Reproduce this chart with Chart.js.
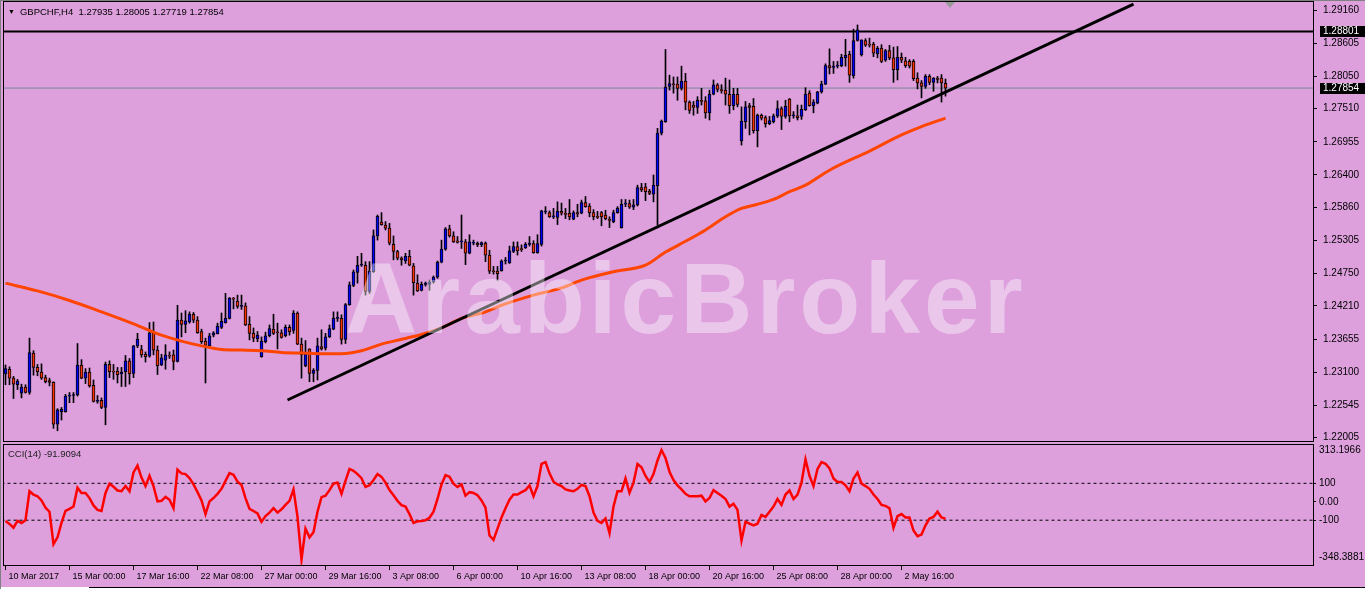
<!DOCTYPE html>
<html>
<head>
<meta charset="utf-8">
<title>GBPCHF H4</title>
<script src="https://cdn.jsdelivr.net/npm/chart.js@4.4.1/dist/chart.umd.min.js"></script>
<style>
  html, body { margin: 0; padding: 0; }
  body { width: 1365px; height: 589px; background: #dda0dd; position: relative; overflow: hidden; font-family: "Liberation Sans", Arial, sans-serif; }
  canvas { position: absolute; left: 0; }
  #mainChart { top: 0; }
  #cciChart { top: 443px; }
  .txt { position: absolute; color: #000; font-size: 9.5px; line-height: 11px; white-space: nowrap; z-index: 2; }
  #header { left: 8px; top: 6px; }
  #header span { font-size: 7px; margin-right: 5px; vertical-align: 1px; }
  #cciLabel { left: 8px; top: 448px; color: #222; }
  #watermark { position: absolute; left: 345px; top: 248px; font-size: 100px; line-height: 100px; font-weight: bold; letter-spacing: 4px; color: rgba(255,255,255,0.4); z-index: 3; white-space: nowrap; }
  #shift { position: absolute; left: 945px; top: 2px; width: 0; height: 0; border-left: 5px solid transparent; border-right: 5px solid transparent; border-top: 6px solid #9a9a9a; z-index: 2; }
  #edgeTop { position: absolute; left: 0; top: 0; width: 1365px; height: 1px; background: #808080; z-index: 2; }
  #edgeLeft { position: absolute; left: 0; top: 0; width: 1px; height: 589px; background: #808080; z-index: 2; }
  #tabs { position: absolute; left: 0; top: 587px; width: 1365px; height: 2px; background: #fff; }
  #tabLine { position: absolute; left: 89px; top: 587px; width: 1276px; height: 1px; background: #000; }
</style>
</head>
<body>
<canvas id="mainChart" width="1365" height="444"></canvas>
<canvas id="cciChart" width="1365" height="146"></canvas>
<div id="edgeTop"></div>
<div id="edgeLeft"></div>
<div id="shift"></div>
<div id="header" class="txt"><span>&#9660;</span>GBPCHF,H4&nbsp; 1.27935 1.28005 1.27719 1.27854</div>
<div id="cciLabel" class="txt">CCI(14) -91.9094</div>
<div id="watermark">ArabicBroker</div>
<div id="tabs"></div>
<div id="tabLine"></div>
<script>
// GBPCHF H4 candles, one entry per bar (index 0 = 10 Mar 2017)
const opens = [1.2307,1.2315,1.2300,1.2289,1.2275,1.2285,1.2276,1.2342,1.2318,1.2310,1.2301,1.2296,1.2293,1.2223,1.2244,1.2244,1.2270,1.2271,1.2272,1.2322,
  1.2300,1.2310,1.2288,1.2261,1.2263,1.2251,1.2323,1.2312,1.2312,1.2307,1.2311,1.2329,1.2308,1.2354,1.2348,1.2340,1.2337,1.2376,1.2347,1.2322,
  1.2330,1.2338,1.2339,1.2328,1.2397,1.2390,1.2394,1.2407,1.2397,1.2378,1.2362,1.2354,1.2372,1.2374,1.2385,1.2393,1.2400,1.2434,1.2429,1.2420,
  1.2421,1.2390,1.2375,1.2366,1.2336,1.2361,1.2371,1.2382,1.2377,1.2376,1.2371,1.2385,1.2380,1.2409,1.2357,1.2321,1.2349,1.2308,1.2313,1.2353,
  1.2350,1.2369,1.2382,1.2400,1.2400,1.2365,1.2423,1.2455,1.2477,1.2489,1.2489,1.2445,1.2478,1.2538,1.2561,1.2556,1.2551,1.2524,1.2512,1.2501,
  1.2496,1.2504,1.2488,1.2459,1.2447,1.2457,1.2457,1.2461,1.2469,1.2494,1.2516,1.2550,1.2538,1.2530,1.2528,1.2528,1.2509,1.2526,1.2526,1.2523,
  1.2526,1.2506,1.2479,1.2479,1.2480,1.2496,1.2493,1.2512,1.2520,1.2516,1.2518,1.2524,1.2525,1.2510,1.2524,1.2578,1.2577,1.2570,1.2569,1.2579,
  1.2576,1.2576,1.2566,1.2577,1.2576,1.2594,1.2588,1.2577,1.2571,1.2577,1.2573,1.2566,1.2562,1.2577,1.2552,1.2591,1.2592,1.2586,1.2590,1.2619,
  1.2620,1.2613,1.2608,1.2622,1.2710,1.2729,1.2788,1.2792,1.2792,1.2785,1.2797,1.2762,1.2757,1.2753,1.2765,1.2764,1.2744,1.2775,1.2791,1.2783,
  1.2782,1.2775,1.2756,1.2775,1.2697,1.2729,1.2756,1.2755,1.2714,1.2740,1.2736,1.2726,1.2729,1.2739,1.2751,1.2738,1.2767,1.2739,1.2739,1.2738,
  1.2749,1.2777,1.2756,1.2760,1.2779,1.2792,1.2823,1.2820,1.2822,1.2823,1.2836,1.2842,1.2806,1.2865,1.2841,1.2865,1.2859,1.2859,1.2843,1.2852,
  1.2832,1.2848,1.2836,1.2816,1.2837,1.2831,1.2830,1.2830,1.2802,1.2794,1.2788,1.2805,1.2795,1.2802,1.2802,1.27935];
const highs = [1.2322,1.2319,1.2303,1.2298,1.2290,1.2289,1.2367,1.2346,1.2323,1.2324,1.2305,1.2300,1.2294,1.2249,1.2251,1.2273,1.2276,1.2276,1.2358,1.2331,
  1.2316,1.2317,1.2297,1.2271,1.2267,1.2327,1.2329,1.2323,1.2318,1.2318,1.2338,1.2333,1.2355,1.2375,1.2355,1.2344,1.2393,1.2394,1.2354,1.2340,
  1.2356,1.2344,1.2347,1.2422,1.2409,1.2413,1.2411,1.2410,1.2403,1.2382,1.2367,1.2375,1.2378,1.2392,1.2409,1.2442,1.2435,1.2435,1.2439,1.2439,
  1.2426,1.2403,1.2384,1.2378,1.2369,1.2377,1.2389,1.2407,1.2392,1.2381,1.2389,1.2389,1.2413,1.2411,1.2367,1.2363,1.2349,1.2316,1.2367,1.2381,
  1.2375,1.2389,1.2411,1.2411,1.2406,1.2425,1.2461,1.2481,1.2504,1.2509,1.2495,1.2495,1.2548,1.2573,1.2577,1.2562,1.2559,1.2538,1.2514,1.2503,
  1.2509,1.2514,1.2492,1.2473,1.2461,1.2461,1.2464,1.2471,1.2496,1.2531,1.2552,1.2556,1.2545,1.2537,1.2573,1.2532,1.2540,1.2531,1.2528,1.2528,
  1.2528,1.2514,1.2487,1.2487,1.2498,1.2502,1.2521,1.2528,1.2528,1.2523,1.2527,1.2537,1.2530,1.2540,1.2581,1.2587,1.2580,1.2584,1.2595,1.2593,
  1.2584,1.2599,1.2580,1.2591,1.2598,1.2604,1.2592,1.2582,1.2579,1.2579,1.2581,1.2570,1.2581,1.2587,1.2599,1.2599,1.2598,1.2599,1.2623,1.2626,
  1.2626,1.2616,1.2640,1.2718,1.2732,1.2850,1.2807,1.2804,1.2804,1.2822,1.2810,1.2764,1.2763,1.2771,1.2785,1.2771,1.2782,1.2799,1.2793,1.2791,
  1.2802,1.2799,1.2785,1.2785,1.2754,1.2763,1.2760,1.2768,1.2742,1.2742,1.2739,1.2738,1.2742,1.2764,1.2754,1.2765,1.2768,1.2746,1.2757,1.2757,
  1.2786,1.2781,1.2766,1.2780,1.2797,1.2826,1.2851,1.2830,1.2830,1.2842,1.2867,1.2847,1.2884,1.2891,1.2866,1.2868,1.2869,1.2862,1.2855,1.2858,
  1.2850,1.2857,1.2854,1.2855,1.2844,1.2837,1.2833,1.2833,1.2811,1.2798,1.2808,1.2808,1.2803,1.2805,1.2808,1.28005];
const lows = [1.2289,1.2289,1.2266,1.2281,1.2267,1.2275,1.2273,1.2305,1.2304,1.2298,1.2292,1.2287,1.2216,1.2212,1.2230,1.2243,1.2259,1.2259,1.2270,1.2299,
  1.2291,1.2285,1.2260,1.2258,1.2249,1.2222,1.2301,1.2298,1.2292,1.2286,1.2286,1.2290,1.2301,1.2351,1.2335,1.2327,1.2335,1.2339,1.2306,1.2321,
  1.2315,1.2333,1.2314,1.2327,1.2369,1.2376,1.2392,1.2393,1.2375,1.2358,1.2292,1.2353,1.2369,1.2374,1.2383,1.2392,1.2399,1.2416,1.2417,1.2415,
  1.2388,1.2364,1.2361,1.2361,1.2335,1.2359,1.2369,1.2373,1.2349,1.2367,1.2369,1.2372,1.2375,1.2356,1.2300,1.2319,1.2294,1.2294,1.2297,1.2347,
  1.2347,1.2368,1.2381,1.2395,1.2357,1.2358,1.2422,1.2453,1.2459,1.2487,1.2439,1.2442,1.2477,1.2531,1.2556,1.2548,1.2523,1.2498,1.2498,1.2489,
  1.2492,1.2488,1.2439,1.2445,1.2446,1.2454,1.2447,1.2459,1.2467,1.2493,1.2514,1.2536,1.2527,1.2526,1.2517,1.2490,1.2508,1.2523,1.2520,1.2520,
  1.2495,1.2475,1.2474,1.2464,1.2479,1.2491,1.2492,1.2510,1.2506,1.2512,1.2517,1.2521,1.2509,1.2509,1.2521,1.2575,1.2569,1.2567,1.2557,1.2573,
  1.2567,1.2565,1.2565,1.2570,1.2575,1.2586,1.2570,1.2565,1.2567,1.2555,1.2565,1.2552,1.2560,1.2576,1.2551,1.2587,1.2584,1.2582,1.2588,1.2612,
  1.2597,1.2607,1.2595,1.2556,1.2707,1.2728,1.2782,1.2777,1.2765,1.2782,1.2749,1.2743,1.2740,1.2743,1.2757,1.2735,1.2732,1.2774,1.2779,1.2777,
  1.2757,1.2743,1.2749,1.2754,1.2690,1.2718,1.2707,1.2710,1.2687,1.2732,1.2720,1.2724,1.2727,1.2736,1.2716,1.2735,1.2729,1.2735,1.2732,1.2733,
  1.2748,1.2755,1.2744,1.2759,1.2777,1.2791,1.2809,1.2810,1.2819,1.2821,1.2822,1.2795,1.2802,1.2864,1.2839,1.2855,1.2854,1.2838,1.2836,1.2828,
  1.2830,1.2833,1.2795,1.2799,1.2828,1.2820,1.2819,1.2798,1.2784,1.2769,1.2785,1.2791,1.2780,1.2794,1.2762,1.27719];
const closes = [1.2316,1.2300,1.2290,1.2295,1.2285,1.2276,1.2343,1.2318,1.2311,1.2300,1.2294,1.2293,1.2223,1.2247,1.2248,1.2270,1.2271,1.2272,1.2322,1.2300,
  1.2310,1.2287,1.2261,1.2263,1.2251,1.2323,1.2311,1.2310,1.2306,1.2310,1.2329,1.2307,1.2354,1.2365,1.2339,1.2336,1.2376,1.2347,1.2321,1.2334,
  1.2339,1.2337,1.2328,1.2397,1.2390,1.2396,1.2407,1.2397,1.2376,1.2361,1.2355,1.2371,1.2376,1.2387,1.2395,1.2400,1.2434,1.2432,1.2420,1.2421,
  1.2389,1.2375,1.2367,1.2372,1.2362,1.2371,1.2383,1.2375,1.2376,1.2368,1.2385,1.2378,1.2409,1.2357,1.2339,1.2340,1.2308,1.2313,1.2354,1.2349,
  1.2369,1.2383,1.2400,1.2401,1.2365,1.2423,1.2456,1.2478,1.2489,1.2490,1.2445,1.2479,1.2538,1.2571,1.2557,1.2551,1.2526,1.2512,1.2501,1.2498,
  1.2504,1.2489,1.2460,1.2446,1.2457,1.2457,1.2461,1.2469,1.2494,1.2516,1.2550,1.2538,1.2528,1.2527,1.2529,1.2509,1.2528,1.2527,1.2523,1.2527,
  1.2506,1.2479,1.2478,1.2475,1.2496,1.2497,1.2513,1.2520,1.2513,1.2515,1.2524,1.2525,1.2510,1.2525,1.2580,1.2579,1.2570,1.2571,1.2579,1.2576,
  1.2574,1.2570,1.2577,1.2575,1.2594,1.2587,1.2577,1.2570,1.2569,1.2570,1.2567,1.2564,1.2577,1.2584,1.2591,1.2593,1.2586,1.2590,1.2619,1.2615,
  1.2612,1.2609,1.2623,1.2710,1.2730,1.2787,1.2793,1.2791,1.2785,1.2797,1.2762,1.2748,1.2753,1.2765,1.2763,1.2744,1.2775,1.2791,1.2783,1.2781,
  1.2775,1.2756,1.2775,1.2758,1.2730,1.2754,1.2753,1.2714,1.2740,1.2735,1.2726,1.2731,1.2739,1.2751,1.2738,1.2755,1.2739,1.2740,1.2736,1.2750,
  1.2775,1.2756,1.2762,1.2779,1.2792,1.2823,1.2819,1.2822,1.2824,1.2837,1.2840,1.2807,1.2865,1.2883,1.2866,1.2857,1.2857,1.2844,1.2852,1.2830,
  1.2848,1.2836,1.2816,1.2837,1.2832,1.2823,1.2822,1.2801,1.2794,1.2788,1.2805,1.2795,1.2802,1.2800,1.2794,1.27854];

// moving average, read at these bar indexes
const maIdx = [0,8,16,24,32,39,44,49,54,59,64,69,74,79,84,89,94,99,104,109,114,120,124,132,139,144,152,160,165,170,175,180,184,188,192,196,200,206,216,224,229,235];
const maVals = [1.2459,1.2446,1.2430,1.2411,1.2391,1.2372,1.2362,1.2354,1.2348,1.2347,1.2346,1.2343,1.2342,1.2341,1.2341,1.2346,1.2357,1.2365,1.2373,1.2384,1.2400,1.2411,1.2422,1.2439,1.2451,1.2464,1.2478,1.2489,1.2511,1.2529,1.2548,1.2570,1.2584,1.2591,1.2599,1.2612,1.2623,1.2648,1.2680,1.2707,1.2721,1.2735];

// CCI(14), one value per bar
const cci = [-104,-120,-141,-104,-115,-100,57,39,30,7,-32,-54,-230,-193,-115,-50,-39,-26,76,48,
  48,20,-20,-44,-50,48,98,81,61,57,85,57,159,196,131,85,141,85,2,5,
  26,11,-35,174,154,150,128,94,52,7,-67,2,20,43,70,113,155,146,109,91,
  20,-39,-50,-63,-109,-78,-59,-35,-59,-41,-17,5,67,-82,-313,-146,-193,-165,-54,25,
  33,63,98,104,43,113,178,168,150,128,80,89,118,150,135,104,63,35,5,-18,
  -26,-67,-115,-106,-104,-100,-87,-54,15,94,144,135,98,80,94,33,52,48,35,7,
  -32,-183,-207,-146,-85,-35,11,39,39,52,63,89,30,85,205,215,154,109,94,85,
  67,61,57,70,91,85,30,-59,-104,-115,-91,-170,-26,57,57,126,48,104,205,187,
  140,107,150,224,280,237,163,118,89,67,43,30,30,30,33,2,20,63,48,33,
  15,-26,-11,-44,-211,-109,-119,-128,-119,-72,-82,-54,-26,15,-17,39,61,15,39,104,
  230,141,85,178,215,206,181,126,107,107,89,57,126,159,98,85,70,39,15,-17,
  -22,-35,-141,-78,-67,-85,-85,-156,-187,-178,-128,-91,-82,-54,-85,-91.9094];

const trendIdx = [70.5, 282];
const trendVals = [1.22635, 1.29260];
const resistance = 1.28801;
const lastPrice = 1.27854;

const priceTicks = [1.29160,1.28605,1.28050,1.27510,1.26955,1.26400,1.25860,1.25305,1.24750,1.24210,1.23655,1.23100,1.22545,1.22005];
const cciTickText = ['-348.3881','-100','0.00','100','313.1966'];
const timeLabels = ['10 Mar 2017','15 Mar 00:00','17 Mar 16:00','22 Mar 08:00','27 Mar 00:00','29 Mar 16:00','3 Apr 08:00','6 Apr 00:00',
  '10 Apr 16:00','13 Apr 08:00','18 Apr 00:00','20 Apr 16:00','25 Apr 08:00','28 Apr 00:00','2 May 16:00'];

Chart.defaults.font.family = '"Liberation Sans", Arial, sans-serif';
Chart.defaults.color = '#000';

const xMin = -0.625, xMax = 326.875;

// black frame round each panel
const framePlugin = {
  id: 'frame',
  afterDraw(c) {
    const a = c.chartArea, g = c.ctx;
    g.save();
    g.strokeStyle = '#000';
    g.lineWidth = 1;
    g.strokeRect(a.left + 0.5, a.top + 0.5, a.right - a.left, a.bottom - a.top - 1);
    g.restore();
  }
};

// black price tags on the axis
const tagPlugin = {
  id: 'tags',
  afterDraw(c) {
    const g = c.ctx, ys = c.scales.y;
    g.save();
    [resistance, lastPrice].forEach(v => {
      const py = Math.round(ys.getPixelForValue(v));
      g.fillStyle = '#000';
      g.fillRect(1320, py - 5, 45, 11);
      g.fillStyle = '#fff';
      g.font = '10px "Liberation Sans", Arial, sans-serif';
      g.textBaseline = 'middle';
      g.fillText(v.toFixed(5), 1323, py + 0.5);
    });
    g.restore();
  }
};

const flat = v => [{ x: -1, y: v }, { x: 330, y: v }];

new Chart(document.getElementById('mainChart'), {
  type: 'bar',
  data: {
    datasets: [
      { type: 'line', data: trendIdx.map((x, k) => ({ x, y: trendVals[k] })), borderColor: '#000', borderWidth: 3, pointRadius: 0, order: 0 },
      { type: 'line', data: maIdx.map((x, k) => ({ x, y: maVals[k] })), borderColor: '#ff4500', borderWidth: 3, pointRadius: 0, cubicInterpolationMode: 'monotone', order: 1 },
      { type: 'bar', data: opens.map((o, i) => ({ x: i, y: [o, closes[i]] })),
        backgroundColor: opens.map((o, i) => closes[i] >= o ? '#0000ff' : '#ff3300'),
        borderColor: '#000', borderWidth: 1, borderSkipped: false, barThickness: 3, minBarLength: 1, grouped: false, order: 2 },
      { type: 'bar', data: highs.map((h, i) => ({ x: i, y: [lows[i], h] })), backgroundColor: '#000', barThickness: 1, grouped: false, order: 3 },
      { type: 'line', data: flat(resistance), borderColor: '#000', borderWidth: 2, pointRadius: 0, order: 4 },
      { type: 'line', data: flat(lastPrice), borderColor: '#778899', borderWidth: 1, pointRadius: 0, order: 5 }
    ]
  },
  options: {
    responsive: false,
    animation: false,
    events: [],
    layout: { padding: { left: 3, top: 1, right: 0, bottom: 2 } },
    plugins: { legend: { display: false }, tooltip: { enabled: false } },
    scales: {
      x: { type: 'linear', min: xMin, max: xMax, offset: false, display: false },
      y: {
        position: 'right',
        min: 1.21932, max: 1.29311,
        afterBuildTicks(s) { s.ticks = priceTicks.map(v => ({ value: v })); },
        afterFit(s) { s.width = 52; s.paddingTop = 0; s.paddingBottom = 0; },
        ticks: { autoSkip: false, padding: 6, font: { size: 10 }, callback: v => v.toFixed(5) },
        grid: { drawOnChartArea: false, drawTicks: true, tickLength: 4, color: '#000' },
        border: { display: false }
      }
    }
  },
  plugins: [framePlugin, tagPlugin]
});

new Chart(document.getElementById('cciChart'), {
  type: 'line',
  data: {
    datasets: [
      { data: cci.map((v, i) => ({ x: i, y: v })), borderColor: '#ff0000', borderWidth: 2.5, pointRadius: 0, order: 0 },
      { data: flat(100), borderColor: '#000', borderWidth: 1, borderDash: [3, 3], pointRadius: 0, order: 1 },
      { data: flat(-100), borderColor: '#000', borderWidth: 1, borderDash: [3, 3], pointRadius: 0, order: 2 }
    ]
  },
  options: {
    responsive: false,
    animation: false,
    events: [],
    layout: { padding: { left: 3, top: 1, right: 0, bottom: 0 } },
    plugins: { legend: { display: false }, tooltip: { enabled: false } },
    scales: {
      x: {
        type: 'linear', min: xMin, max: xMax, offset: false,
        afterBuildTicks(s) { s.ticks = timeLabels.map((_, k) => ({ value: k * 16 })); },
        afterFit(s) { s.height = 23; s.paddingLeft = 0; s.paddingRight = 0; },
        ticks: { autoSkip: false, maxRotation: 0, align: 'start', labelOffset: 3, padding: 1, font: { size: 9 }, callback: (v, i) => timeLabels[i] },
        grid: { drawOnChartArea: false, drawTicks: true, tickLength: 4, color: '#000' },
        border: { display: false }
      },
      y: {
        position: 'right',
        min: -348.3881, max: 313.1966,
        afterBuildTicks(s) { s.ticks = [-299, -100, 0, 100, 280].map(v => ({ value: v })); },
        afterFit(s) { s.width = 52; s.paddingTop = 0; s.paddingBottom = 0; },
        ticks: { autoSkip: false, padding: 3, font: { size: 10 }, callback: (v, i) => cciTickText[i] },
        grid: { drawOnChartArea: false, drawTicks: true, tickLength: 3, color: c => [100, 0, -100].includes(c.tick && c.tick.value) ? '#000' : 'rgba(0,0,0,0)' },
        border: { display: false }
      }
    }
  },
  plugins: [framePlugin]
});
</script>
</body>
</html>
